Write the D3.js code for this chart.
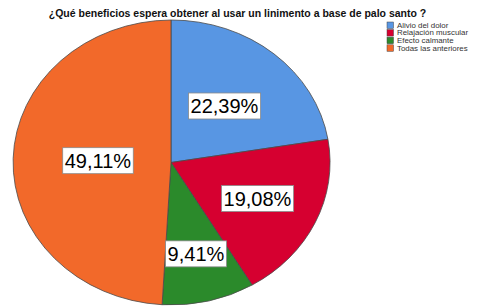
<!DOCTYPE html>
<html>
<head>
<meta charset="utf-8">
<script src="https://cdn.jsdelivr.net/npm/d3@7"></script>
<style>
  body { margin: 0; background: #fff; }
  svg { display: block; font-family: "Liberation Sans", Arial, sans-serif; }
</style>
</head>
<body>
<div id="chart"></div>
<script>
// data
var categories = ['Alivio del dolor', 'Relajación muscular', 'Efecto calmante', 'Todas las anteriores'];
var percents = [22.39, 19.08, 9.41, 49.11];
var colors = ['#5896E3', '#D60030', '#2B8A2B', '#F2692A'];
// how far out each label sits (fraction of radius)
var labelRadius = [0.52, 0.6, 0.66, 0.46];

const width = 478, height = 306;
const cx = 171, cy = 162.5, rx = 159, ry = 142.5;

var svg = d3.select('#chart').append('svg')
  .attr('width', width).attr('height', height);

// title
svg.append('text')
  .attr('x', 237.5).attr('y', 17)
  .attr('text-anchor', 'middle')
  .style('font-size', '10.5px').style('font-weight', 'bold')
  .style('fill', '#111')
  .text('¿Qué beneficios espera obtener al usar un linimento a base de palo santo ?');

var pie = d3.pie().sort(null).value(d => d);
var arcs = pie(percents);
var arc = d3.arc().innerRadius(0).outerRadius(1);

// pie drawn on unit circle then stretched into an ellipse
var g = svg.append('g')
  .attr('transform', `translate(${cx},${cy}) scale(${rx},${ry})`);
g.selectAll('path').data(arcs).enter().append('path')
  .attr('d', arc)
  .attr('fill', (d, i) => colors[i])
  .attr('stroke', '#4a4a4a')
  .attr('stroke-width', 0.8)
  .attr('vector-effect', 'non-scaling-stroke');

// labels
var fmt = v => v.toFixed(2).replace('.', ',') + '%';
var labels = svg.selectAll('.lbl').data(arcs).enter().append('g').attr('class', 'lbl')
  .attr('transform', (d, i) => {
    var a = (d.startAngle + d.endAngle) / 2;
    var f = labelRadius[i];
    return `translate(${cx + rx * f * Math.sin(a)},${cy - ry * f * Math.cos(a)})`;
  });
labels.append('rect');
labels.append('text')
  .attr('text-anchor', 'middle')
  .attr('dy', '0.36em')
  .style('font-size', '20px')
  .style('fill', '#000')
  .text(d => fmt(d.value));
labels.each(function () {
  var t = d3.select(this).select('text').node().getBBox();
  d3.select(this).select('rect')
    .attr('x', t.x - 2).attr('y', -13)
    .attr('width', t.width + 4).attr('height', 26)
    .attr('fill', '#fff').attr('stroke', '#8a8a8a').attr('stroke-width', 0.8);
});

// legend
var legend = svg.append('g').attr('transform', 'translate(387,22)');
var items = legend.selectAll('g').data(categories).enter().append('g')
  .attr('transform', (d, i) => `translate(0,${i * 7.6})`);
items.append('rect')
  .attr('width', 6.5).attr('height', 6.5)
  .attr('fill', (d, i) => colors[i])
  .attr('stroke', '#444').attr('stroke-width', 0.5);
items.append('text')
  .attr('x', 10).attr('y', 5.8)
  .style('font-size', '7.9px').style('fill', '#333')
  .text(d => d);
</script>
</body>
</html>
